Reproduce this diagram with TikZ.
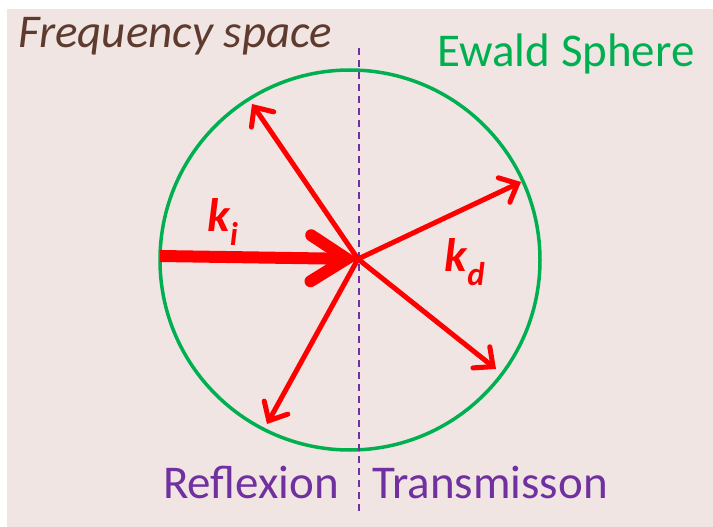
\documentclass[tikz,border=0pt]{standalone}
\usepackage{fontspec}
\setmainfont{Carlito}
\usetikzlibrary{arrows.meta}
\definecolor{ewgreen}{HTML}{00B050}
\definecolor{ewpurple}{HTML}{7030A0}
\definecolor{ewbrown}{HTML}{5E3B2E}
\definecolor{ewback}{HTML}{F0E5E3}

\begin{document}
\begin{tikzpicture}[x=1pt,y=-1pt,
  wavevec/.style={red, line width=5pt, -{Straight Barb[length=15pt,width=27pt,line cap=round]}},
  incvec/.style={red, line width=12pt, -{Straight Barb[length=36pt,width=46pt,line cap=round]}},
  bigtext/.style={font=\fontsize{47}{56}\selectfont, anchor=base west, inner sep=0pt}]
  \useasboundingbox (0,0) rectangle (713,527);
  \fill[white] (0,0) rectangle (713,527);
  \fill[ewback] (7,9) rectangle (713,527);
  % titles
  \node (freq) [bigtext, text=ewbrown, font=\fontsize{47}{56}\selectfont\itshape] at (18,48) {Frequency space};
  \node (ewald) [bigtext, text=ewgreen] at (437,67) {Ewald Sphere};
  \node (refl) [bigtext, text=ewpurple] at (163,498) {Reflexion};
  \node (trans) [bigtext, text=ewpurple] at (372,498) {Transmisson};
  % sphere and separation line
  \node (sphere) [draw=ewgreen, line width=3.5pt, circle, minimum size=380pt, inner sep=0pt] at (350,260) {};
  \coordinate (dtop) at (359,48);
  \coordinate (dbot) at (359,512);
  \draw[ewpurple, line width=1.6pt, dash pattern=on 7pt off 5pt] (dtop) -- (dbot);
  % wave vectors
  \coordinate (o) at (358,259);
  \coordinate (kin) at (160,256);
  \coordinate (ul) at (252,104);
  \coordinate (ur) at (521,182);
  \coordinate (dr) at (496,369);
  \coordinate (dl) at (267,424);
  \draw[wavevec] (o) -- (ul);
  \draw[wavevec] (o) -- (ur);
  \draw[wavevec] (o) -- (dr);
  \draw[wavevec] (o) -- (dl);
  \draw[incvec] (kin) -- (o);
  \node (ki) [text=red, font=\fontsize{47}{56}\selectfont\bfseries\itshape] at (223,222) {k\textsubscript{i}};
  \node (kd) [text=red, font=\fontsize{47}{56}\selectfont\bfseries\itshape] at (465,262) {k\textsubscript{d}};
\end{tikzpicture}
\end{document}
